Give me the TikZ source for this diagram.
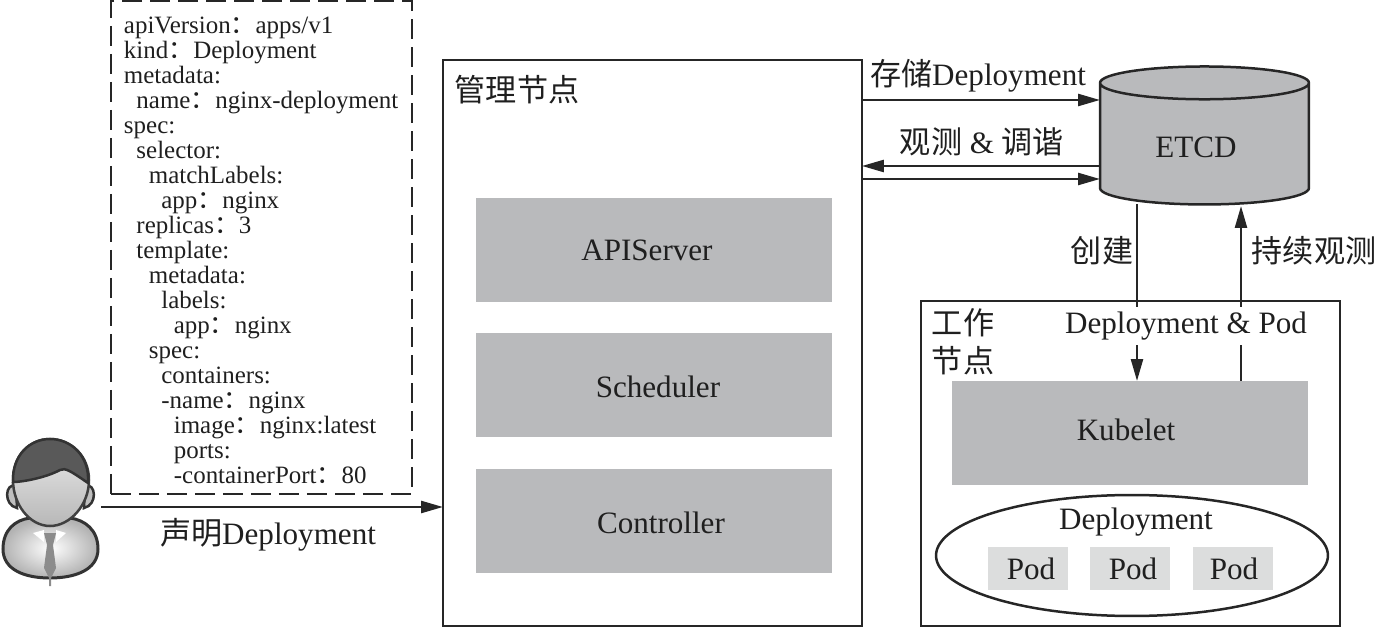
\documentclass[tikz,border=0pt]{standalone}
\usepackage{fontspec}
\setmainfont{Liberation Serif}
\newfontfamily\cjk{Noto Sans CJK SC}
\usetikzlibrary{arrows.meta,shapes.geometric,positioning}
\definecolor{boxgray}{HTML}{B9BABC}
\definecolor{podgray}{HTML}{DCDDDD}
\newcommand{\yc}{{\cjk ：}}
\newcommand{\yi}[1]{\hspace*{#1em}}
\tikzset {
  >={Stealth[length=.44cm,width=.24cm,inset=0pt]},
  every node/.style={font=\fontsize{17.7}{21}\selectfont,text=black!88},
  conn/.style={line width=.05cm,draw=black!85},
  frame/.style={draw=black!85,line width=.05cm,outer sep=0pt,minimum width=8.38cm,anchor=north west},
  graybox/.style={fill=boxgray,outer sep=0pt,minimum width=7.12cm,minimum height=2.08cm,anchor=north west},
  podbox/.style={fill=podgray,outer sep=0pt,minimum width=1.6cm,minimum height=.86cm,anchor=north west},
  caption/.style={fill=white,inner xsep=.5pt,inner ysep=2.5pt},
}

\begin{document}
\begin{tikzpicture}[x=.02cm,y=-.02cm]
  \useasboundingbox (0,0) rectangle (1374,628);
  \coordinate (user) at (101,507);
  \coordinate (etcdl) at (1137,204);
  \coordinate (etcdr) at (1241,206);

  \node (yaml) at (111,1)[draw=black!85,line width=.05cm,dash pattern=on .4cm off .16cm,outer sep=0pt,anchor=north west,
    minimum width=6.02cm,minimum height=9.86cm,inner xsep=.26cm,inner ysep=0pt,text width=5.5cm,align=left,
    font=\fontsize{14.2}{14.25}\selectfont]{%
    \rule{0pt}{.9em}apiVersion\yc apps/v1\\
    kind\yc Deployment\\
    metadata:\\
    \yi{.5}name\yc nginx-deployment\\
    spec:\\
    \yi{.5}selector:\\
    \yi{1}matchLabels:\\
    \yi{1.5}app\yc nginx\\
    \yi{.5}replicas\yc 3\\
    \yi{.5}template:\\
    \yi{1}metadata:\\
    \yi{1.5}labels:\\
    \yi{2}app\yc nginx\\
    \yi{1}spec:\\
    \yi{1.5}containers:\\
    \yi{1.5}-name\yc nginx\\
    \yi{2}image\yc nginx:latest\\
    \yi{2}ports:\\
    \yi{2}-containerPort\yc 80};

  \node (master) at (443,60)[frame,minimum height=11.32cm]{};
  \node (mastertitle) at (517,90){\cjk 管理节点};
  \node (api) at (476,198)[graybox,label={[xshift=-.14cm]center:APIServer}]{};
  \node (sched) at (476,333)[graybox,label={[xshift=.08cm,yshift=-.04cm]center:Scheduler}]{};
  \node (ctrl) at (476,469)[graybox,label={[xshift=.14cm,yshift=-.04cm]center:Controller}]{};

  \node (worker) at (921,301)[frame,minimum height=6.5cm]{};
  \node (workertitle) at (963,342)[align=center,font=\fontsize{17.7}{21.5}\selectfont\cjk]{工作\\节点};
  \node (kubelet) at (952,381)[graybox,label={[xshift=-.08cm,yshift=.06cm]center:Kubelet}]{};
  \node (deploy) at (1132,555.5)[draw=black!85,line width=.05cm,outer sep=0pt,ellipse,minimum width=7.84cm,minimum height=2.42cm]{};
  \node (deploytitle) at (1136,522){Deployment};
  \node (pod1) at (988,547)[podbox,label={[xshift=.06cm]center:Pod}]{};
  \node (pod2) at (1090,547)[podbox,label={[xshift=.06cm]center:Pod}]{};
  \node (pod3) at (1193,547)[podbox,label={[xshift=.02cm]center:Pod}]{};

  \draw[->,conn] (etcdl) -- (etcdl |- kubelet.north);
  \draw[->,conn] (etcdr |- kubelet.north) -- (etcdr);

  \node (etcd) at (1204.5,147)[cylinder,shape border rotate=90,aspect=2.8,draw=black!85,line width=.05cm,outer sep=0pt,
    cylinder uses custom fill,cylinder body fill=boxgray,cylinder end fill=boxgray,minimum width=4.18cm,minimum height=2.76cm]{};
  \node (etcdtext) at (1196,147){ETCD};

  \node (podlabel) at (1186,326)[caption]{Deployment \& Pod};
  \node (createlabel) at (1102,251){\cjk 创建};
  \node (watchlabel) at (1314,251){\cjk 持续观测};

  \draw[->,conn] (user) -- (user -| master.west);
  \node (decl) at (268,535){{\cjk 声明}Deployment};

  \draw[->,conn] (master.east |- 0,100) -- (etcd.west |- 0,100);
  \draw[->,conn] (etcd.west |- 0,166) -- (master.east |- 0,166);
  \draw[->,conn] (master.east |- 0,179) -- (etcd.west |- 0,179);
  \node (store) at (978,76){{\cjk 存储}Deployment};
  \node (observe) at (982,142){{\cjk 观测} \& {\cjk 调谐}};

  \filldraw[draw=black!80,line width=.06cm,inner color=white,outer color=black!30]
    (3,549) .. controls (3,530) and (15,520) .. (30,518) -- (70,518) .. controls (85,520) and (98,530) .. (98,549)
    .. controls (98,570) and (75,578) .. (50,578) .. controls (25,578) and (3,570) .. (3,549) -- cycle;
  \fill[white] (33,533) -- (44,530) -- (44,542) -- cycle;
  \fill[white] (66,533) -- (56,530) -- (56,542) -- cycle;
  \fill[black!45] (44,533) -- (56,533) -- (53,545) -- (56,568) -- (51,578) -- (51,586) -- (49,586) -- (49,578) -- (44,568) -- (47,545) -- cycle;
  \filldraw[draw=black!80,line width=.05cm,fill=black!25] (16,486) .. controls (5,482) and (3,505) .. (17,508) -- cycle;
  \filldraw[draw=black!80,line width=.05cm,fill=black!25] (85,486) .. controls (96,482) and (98,505) .. (84,508) -- cycle;
  \filldraw[draw=black!75,line width=.05cm,top color=black!8,bottom color=black!28]
    (13,480) .. controls (13,505) and (30,526) .. (50,526) .. controls (70,526) and (89,505) .. (89,480)
    .. controls (89,455) and (70,439) .. (50,439) .. controls (30,439) and (13,455) .. (13,480) -- cycle;
  \filldraw[draw=black!80,line width=.05cm,fill=black!65]
    (13,482) .. controls (22,482) and (45,478) .. (60,470) .. controls (65,467) and (72,472) .. (88,483)
    .. controls (90,455) and (70,439) .. (50,439) .. controls (30,439) and (12,455) .. (13,482) -- cycle;
\end{tikzpicture}
\end{document}
